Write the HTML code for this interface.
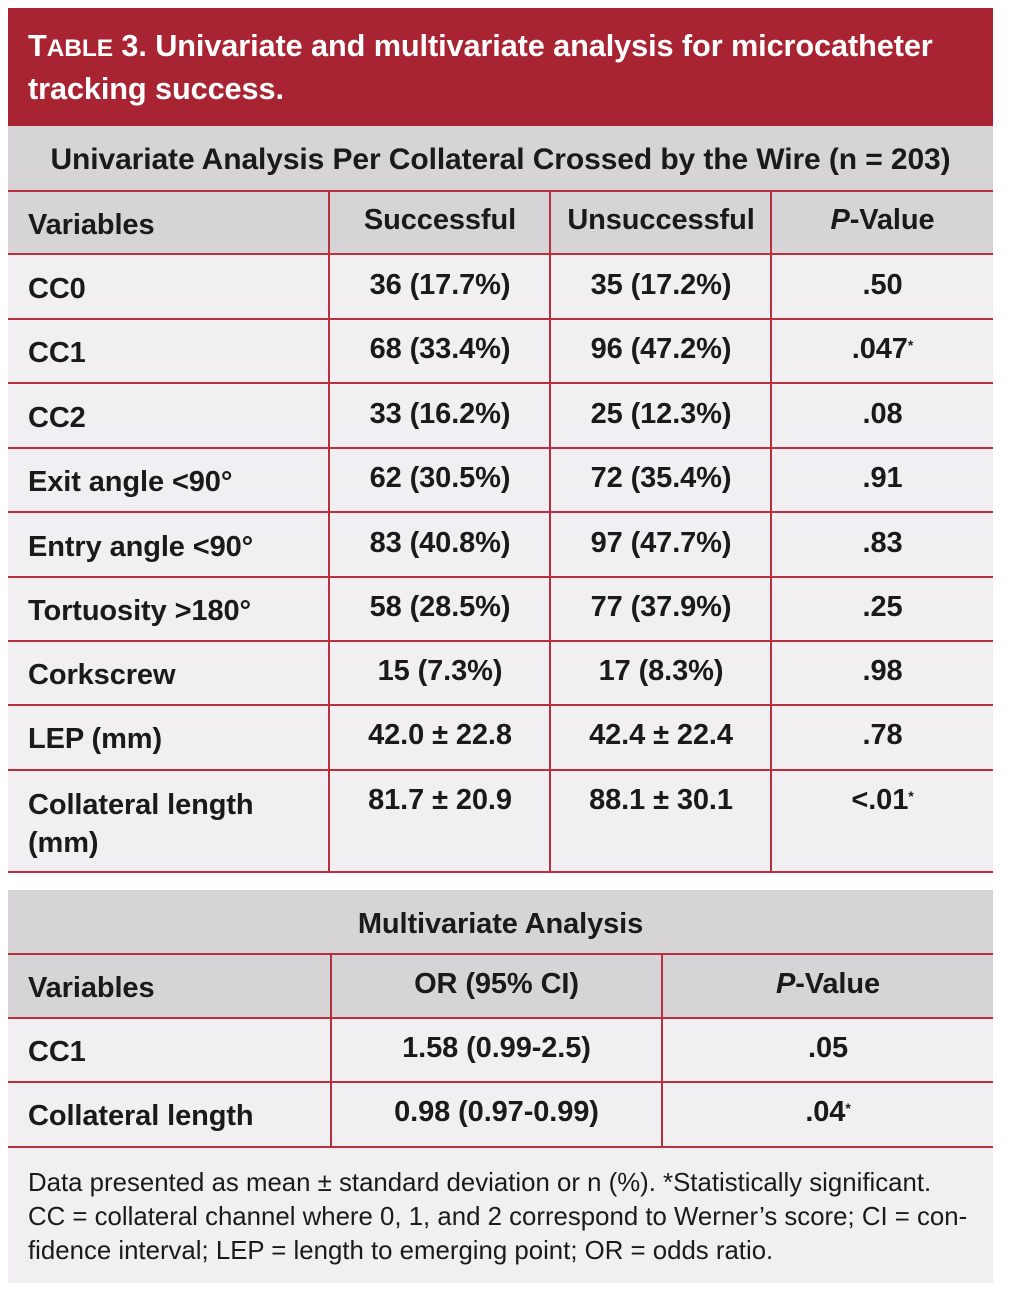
<!DOCTYPE html>
<html><head><meta charset="utf-8"><style>
body{margin:0;width:1012px;height:1300px;background:#fff;position:relative;font-family:"Liberation Sans",sans-serif;color:#1a1a1a;overflow:hidden}
.a{position:absolute}
.red{background:#a82432}
.g{background:#d6d4d7}
.l{background:#f1eff1}
.hl{position:absolute;left:8px;width:985px;height:2px;background:#b8303e}
.vl{position:absolute;width:2px;background:#b8303e}
.t{position:absolute;font-weight:bold;font-size:29px;letter-spacing:-0.1px;white-space:nowrap;line-height:32px}
.c{text-align:center}
sup{font-size:14px;vertical-align:top;position:relative;top:-4px}
</style></head><body>
<div class="a red" style="left:8px;top:8px;width:985px;height:118px"></div>
<div class="t" style="left:28px;top:26px;color:#fff;font-size:30.7px;line-height:40px">T<span style="font-size:24.5px">ABLE</span> 3. Univariate and multivariate analysis for microcatheter<br>tracking success.</div>

<div class="a g" style="left:8px;top:126px;width:985px;height:128px"></div>
<div class="a l" style="left:8px;top:254px;width:985px;height:618px"></div>
<div class="t c" style="left:8px;width:985px;top:144px;font-size:30px">Univariate Analysis Per Collateral Crossed by the Wire (n = 203)</div>
<div class="hl" style="top:190px"></div>
<div class="hl" style="top:253px"></div>
<div class="hl" style="top:318px"></div>
<div class="hl" style="top:382px"></div>
<div class="hl" style="top:447px"></div>
<div class="hl" style="top:511px"></div>
<div class="hl" style="top:576px"></div>
<div class="hl" style="top:640px"></div>
<div class="hl" style="top:704px"></div>
<div class="hl" style="top:769px"></div>
<div class="hl" style="top:871px"></div>
<div class="vl" style="left:328px;top:190px;height:682px"></div>
<div class="vl" style="left:549px;top:190px;height:682px"></div>
<div class="vl" style="left:770px;top:190px;height:682px"></div>

<div class="t" style="left:28px;top:209px">Variables</div>
<div class="t c" style="left:330px;width:220px;top:204px">Successful</div>
<div class="t c" style="left:551px;width:220px;top:204px">Unsuccessful</div>
<div class="t c" style="left:772px;width:221px;top:204px"><i>P</i>-Value</div>

<div class="t" style="left:28px;top:273px">CC0</div>
<div class="t c" style="left:330px;width:220px;top:269px">36 (17.7%)</div>
<div class="t c" style="left:551px;width:220px;top:269px">35 (17.2%)</div>
<div class="t c" style="left:772px;width:221px;top:269px">.50</div>

<div class="t" style="left:28px;top:337px">CC1</div>
<div class="t c" style="left:330px;width:220px;top:333px">68 (33.4%)</div>
<div class="t c" style="left:551px;width:220px;top:333px">96 (47.2%)</div>
<div class="t c" style="left:772px;width:221px;top:333px">.047<sup>*</sup></div>

<div class="t" style="left:28px;top:402px">CC2</div>
<div class="t c" style="left:330px;width:220px;top:398px">33 (16.2%)</div>
<div class="t c" style="left:551px;width:220px;top:398px">25 (12.3%)</div>
<div class="t c" style="left:772px;width:221px;top:398px">.08</div>

<div class="t" style="left:28px;top:466px">Exit angle &lt;90°</div>
<div class="t c" style="left:330px;width:220px;top:462px">62 (30.5%)</div>
<div class="t c" style="left:551px;width:220px;top:462px">72 (35.4%)</div>
<div class="t c" style="left:772px;width:221px;top:462px">.91</div>

<div class="t" style="left:28px;top:531px">Entry angle &lt;90°</div>
<div class="t c" style="left:330px;width:220px;top:527px">83 (40.8%)</div>
<div class="t c" style="left:551px;width:220px;top:527px">97 (47.7%)</div>
<div class="t c" style="left:772px;width:221px;top:527px">.83</div>

<div class="t" style="left:28px;top:595px">Tortuosity &gt;180°</div>
<div class="t c" style="left:330px;width:220px;top:591px">58 (28.5%)</div>
<div class="t c" style="left:551px;width:220px;top:591px">77 (37.9%)</div>
<div class="t c" style="left:772px;width:221px;top:591px">.25</div>

<div class="t" style="left:28px;top:659px">Corkscrew</div>
<div class="t c" style="left:330px;width:220px;top:655px">15 (7.3%)</div>
<div class="t c" style="left:551px;width:220px;top:655px">17 (8.3%)</div>
<div class="t c" style="left:772px;width:221px;top:655px">.98</div>

<div class="t" style="left:28px;top:723px">LEP (mm)</div>
<div class="t c" style="left:330px;width:220px;top:719px">42.0 ± 22.8</div>
<div class="t c" style="left:551px;width:220px;top:719px">42.4 ± 22.4</div>
<div class="t c" style="left:772px;width:221px;top:719px">.78</div>

<div class="t" style="left:28px;top:786px;line-height:38px">Collateral length<br>(mm)</div>
<div class="t c" style="left:330px;width:220px;top:784px">81.7 ± 20.9</div>
<div class="t c" style="left:551px;width:220px;top:784px">88.1 ± 30.1</div>
<div class="t c" style="left:772px;width:221px;top:784px">&lt;.01<sup>*</sup></div>

<div class="a g" style="left:8px;top:890px;width:985px;height:128px"></div>
<div class="a l" style="left:8px;top:1018px;width:985px;height:265px"></div>
<div class="t c" style="left:8px;width:985px;top:908px">Multivariate Analysis</div>
<div class="hl" style="top:953px"></div>
<div class="hl" style="top:1017px"></div>
<div class="hl" style="top:1081px"></div>
<div class="hl" style="top:1146px"></div>
<div class="vl" style="left:330px;top:953px;height:194px"></div>
<div class="vl" style="left:661px;top:953px;height:194px"></div>

<div class="t" style="left:28px;top:972px">Variables</div>
<div class="t c" style="left:332px;width:329px;top:968px">OR (95% CI)</div>
<div class="t c" style="left:663px;width:330px;top:968px"><i>P</i>-Value</div>

<div class="t" style="left:28px;top:1036px">CC1</div>
<div class="t c" style="left:332px;width:329px;top:1032px">1.58 (0.99-2.5)</div>
<div class="t c" style="left:663px;width:330px;top:1032px">.05</div>

<div class="t" style="left:28px;top:1100px">Collateral length</div>
<div class="t c" style="left:332px;width:329px;top:1096px">0.98 (0.97-0.99)</div>
<div class="t c" style="left:663px;width:330px;top:1096px">.04<sup>*</sup></div>

<div class="a" style="left:28px;top:1166px;font-size:25.8px;line-height:34px;letter-spacing:0;white-space:nowrap">Data presented as mean ± standard deviation or n (%). *Statistically significant.<br>CC = collateral channel where 0, 1, and 2 correspond to Werner’s score; CI = con-<br>fidence interval; LEP = length to emerging point; OR = odds ratio.</div>
</body></html>
